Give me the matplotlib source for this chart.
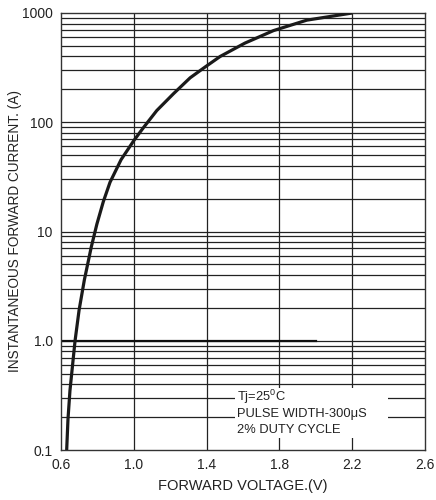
import matplotlib
matplotlib.use('Agg')
import matplotlib.pyplot as plt
from matplotlib.patches import Rectangle

plt.rcParams['font.family'] = ['Liberation Sans', 'DejaVu Sans']

# curve
volts = [0.631, 0.638, 0.649, 0.677, 0.699, 0.728, 0.766, 0.797, 0.832, 0.869, 0.93,
         1.0, 1.052, 1.126, 1.217, 1.309, 1.391, 1.474, 1.61, 1.767, 1.95, 2.2]
amps = [0.1, 0.19, 0.35, 1.0, 1.9, 3.6, 7.2, 11.7, 18.7, 28.2, 45.5,
        68, 89, 128, 182, 255, 320, 400, 530, 690, 860, 1000]

x_ticks = [0.6, 1.0, 1.4, 1.8, 2.2, 2.6]
y_ticks = [0.1, 1, 10, 100, 1000]
y_tick_labels = ['0.1', '1.0', '10', '100', '1000']
note_lines = [r'Tj=25$^{\mathregular{0}}$C', 'PULSE WIDTH-300\u03bcS', '2% DUTY CYCLE']

fig = plt.figure(figsize=(4.36, 5.0), dpi=100)
ax = fig.add_axes([0.140, 0.100, 0.835, 0.874])

ax.set_yscale('log')
ax.set_xlim(0.6, 2.6)
ax.set_ylim(0.1, 1000)

# grid: every minor decade line horizontally, major volts vertically
for dec in [0.1, 1, 10, 100]:
    for k in range(2, 10):
        ax.axhline(dec * k, color='#222222', lw=0.9, zorder=1)
for dec in [1, 10, 100]:
    ax.axhline(dec, color='#222222', lw=0.9, zorder=1)
for xv in x_ticks[1:-1]:
    ax.axvline(xv, color='#222222', lw=0.9, zorder=1)
ax.plot([0.6, 2.0], [1.0, 1.0], color='#111111', lw=1.6, zorder=1)

ax.plot(volts, amps, color='#1a1a1a', lw=2.3, zorder=3, solid_capstyle='butt',
        solid_joinstyle='round')

# note box covering the grid
ax.add_patch(Rectangle((0.478, 0.027), 0.42, 0.115, transform=ax.transAxes,
                       facecolor='white', edgecolor='none', zorder=2))
for i, line in enumerate(note_lines):
    ax.text(0.484, 0.121 - i * 0.038, line, transform=ax.transAxes,
            fontsize=9.3, va='center', ha='left', zorder=4, color='#222222')

ax.set_xticks(x_ticks)
ax.set_xticklabels(['%.1f' % v for v in x_ticks])
ax.set_yticks(y_ticks)
ax.set_yticklabels(y_tick_labels)
ax.minorticks_off()
ax.tick_params(length=0, labelsize=10, pad=6, colors='#222222')
for s in ax.spines.values():
    s.set_color('#333333')
    s.set_linewidth(1.0)

ax.set_xlabel('FORWARD VOLTAGE.(V)', fontsize=10.5, labelpad=5, color='#222222')
ax.set_ylabel('INSTANTANEOUS FORWARD CURRENT. (A)', fontsize=9.8, labelpad=0, color='#222222')

fig.savefig('out.png', dpi=100)
